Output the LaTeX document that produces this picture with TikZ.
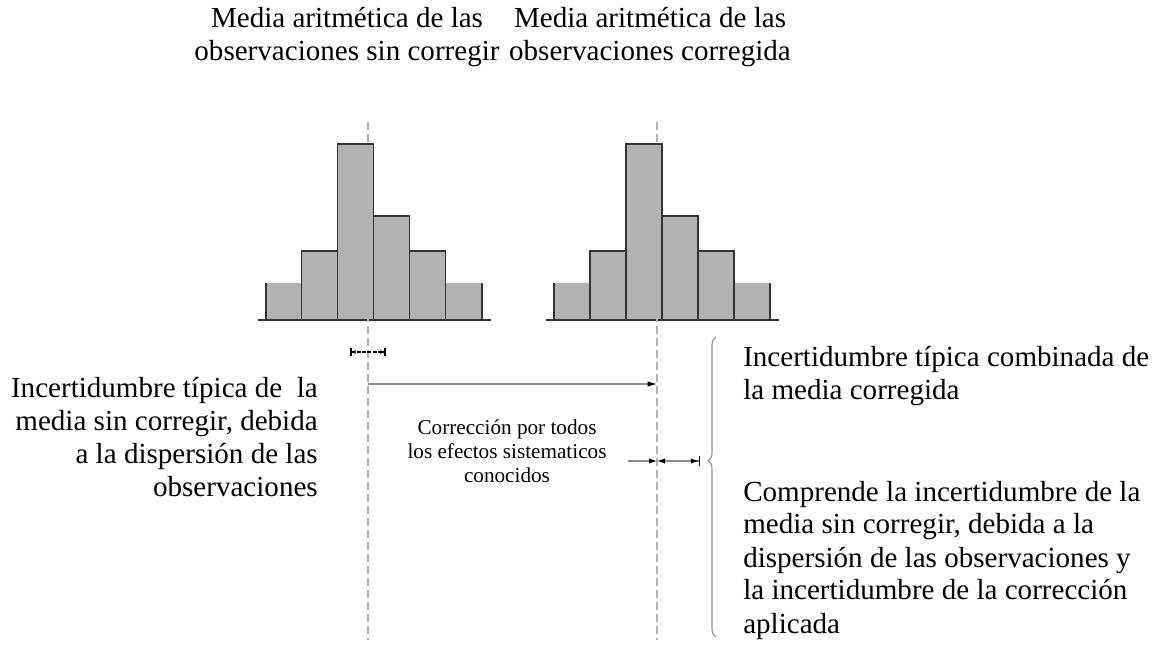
\documentclass[tikz,border=0pt]{standalone}
\usepackage{fontspec}
\setmainfont{Liberation Serif}
\usetikzlibrary{arrows.meta,positioning,decorations.pathreplacing}

\begin{document}
\begin{tikzpicture}[
		x=0.75pt, y=-0.75pt,
		bar/.style={draw=black!80, line width=1.1pt, fill=black!30},
		outer/.style={fill=black!30},
		axis/.style={draw=black!80, line width=1.3pt},
		mean/.style={draw=black!30, line width=1.4pt, dash pattern=on 6pt off 3pt},
		dim/.style={draw=black!45, line width=0.8pt},
		label/.style={font=\fontsize{21.8}{24.75}\selectfont, inner sep=0pt},
		note/.style={font=\fontsize{15.9}{18}\selectfont, align=center, inner sep=0pt},
	]
		\useasboundingbox (0,0) rectangle (1166,646);
		
		% histograms
		\foreach \ox in {265.7,554} {
			\fill[outer] (\ox,283) rectangle ++(36,37);
			\fill[outer] (\ox+180,283) rectangle ++(36,37);
			\draw[axis] (\ox,320) -- (\ox,283);
			\draw[axis] (\ox+216,320) -- (\ox+216,283);
			\foreach \i/\h in {1/251, 2/144, 3/216, 4/251}
				\draw[bar] (\ox+36*\i,320) rectangle (\ox+36*\i+36,\h);
			\draw[axis] (\ox-8,320) -- (\ox+225,320);
		}
		
		% mean lines
		\coordinate (mA) at (368,122);
		\coordinate (mAb) at (368,640);
		\coordinate (mB) at (657,122);
		\coordinate (mBb) at (657,640);
		\draw[mean] (mA) -- (mAb);
		\draw[mean] (mB) -- (mBb);
		
		\node (tA) [label, align=center] at (347,37) {Media aritmética de las\\observaciones sin corregir};
		\node (tB) [label, align=center] at (650,37) {Media aritmética de las\\observaciones corregida};
		
		% spread of the uncorrected mean
		\coordinate (sA) at (350,352);
		\coordinate (sB) at (386,352);
		\draw[black, line width=1.2pt, dash pattern=on 3pt off 1pt,
			{Bar[width=6pt]Latex[length=3pt,width=3pt]}-{Latex[length=3pt,width=3pt]Bar[width=6pt]}] (sA) -- (sB);
		
		% correction
		\coordinate (cA) at (368,384);
		\coordinate (cB) at (657,384);
		\draw[dim, -{Latex[black,length=7pt,width=4pt]}] (cA) -- (cB);
		\node (corr) [note] at (507,451) {Corrección por todos\\los efectos sistematicos\\conocidos};
		
		% combined uncertainty
		\coordinate (uA) at (628,461);
		\coordinate (uB) at (657,461);
		\coordinate (uC) at (700,461);
		\draw[dim, -{Latex[black,length=6pt,width=4pt]}] (uA) -- (uB);
		\draw[dim, {Latex[black,length=6pt,width=4pt]}-{Latex[black,length=6pt,width=4pt]Bar[black,width=7pt]}] (uB) -- (uC);
		
		\coordinate (bA) at (716,637);
		\coordinate (bB) at (716,337);
		\draw[dim, decorate, decoration={brace, amplitude=6pt, aspect=0.587}] (bA) -- (bB);
		
		\node (uL) [label, align=right, anchor=east] at (318,437) {Incertidumbre típica de\ \ la\\media sin corregir, debida\\a la dispersión de las\\observaciones};
		\node (uR) [label, align=left, anchor=west] at (743,376) {Incertidumbre típica combinada de\\la media corregida};
		\node (uRd) [label, align=left, anchor=west] at (743,560) {Comprende la incertidumbre de la\\media sin corregir, debida a la\\dispersión de las observaciones y\\la incertidumbre de la corrección\\aplicada};
	\end{tikzpicture}
\end{document}
